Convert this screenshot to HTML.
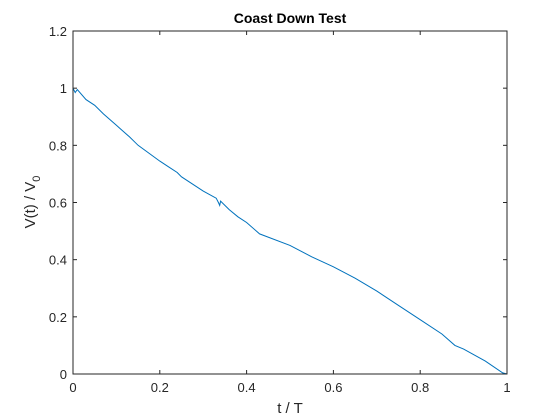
<!DOCTYPE html>
<html><head><meta charset="utf-8"><style>
body{margin:0;background:#fff;}
svg{display:block;font-family:"Liberation Sans","DejaVu Sans",sans-serif;}
</style></head><body>
<svg id="chart" width="560" height="420">
<rect x="0" y="0" width="560" height="420" fill="#fff"/>
<g id="grid"></g>
<path id="line" fill="none" stroke="#0072bd" stroke-width="1"/>
<rect x="73" y="31" width="434" height="343" fill="none" stroke="#262626" stroke-width="1"/>
<text x="290" y="23" text-anchor="middle" font-size="14" font-weight="bold" fill="#000">Coast Down Test</text>
<text x="290" y="413" text-anchor="middle" font-size="15" fill="#262626">t / T</text>
<text transform="translate(35,202) rotate(-90)" text-anchor="middle" font-size="15" fill="#262626">V(t) / V<tspan dy="5" font-size="11">0</tspan></text>
</svg>
<script>
const xTicks=[0,0.2,0.4,0.6,0.8,1];
const xTickLabels=["0","0.2","0.4","0.6","0.8","1"];
const yTicks=[0,0.2,0.4,0.6,0.8,1,1.2];
const yTickLabels=["0","0.2","0.4","0.6","0.8","1","1.2"];
const tValues=[0,0.005,0.01,0.03,0.05,0.07,0.1,0.13,0.15,0.2,0.22,0.24,0.25,0.3,0.33,0.335,0.338,0.34,0.36,0.38,0.4,0.43,0.5,0.55,0.6,0.65,0.7,0.75,0.8,0.85,0.88,0.9,0.95,0.99,1];
const vValues=[1.0,0.985,0.995,0.96,0.94,0.91,0.87,0.83,0.80,0.745,0.725,0.705,0.69,0.64,0.615,0.6,0.59,0.605,0.575,0.55,0.53,0.49,0.45,0.41,0.375,0.335,0.29,0.24,0.19,0.14,0.10,0.087,0.045,0.004,0];
const X0=73,X1=507,Y0=374,Y1=31;
const sx=v=>X0+v*(X1-X0);
const sy=v=>Y0-(v/1.2)*(Y0-Y1);
const NS="http://www.w3.org/2000/svg";
const g=document.getElementById('grid');
function mk(tag,attrs){const e=document.createElementNS(NS,tag);for(const k in attrs)e.setAttribute(k,attrs[k]);return e;}
xTicks.forEach((t,i)=>{
  const x=sx(t);
  const a=mk('line',{x1:x,x2:x,y1:Y0,y2:Y0-4,stroke:'#262626'});
  
  
  g.appendChild(a);
  const b=mk('line',{x1:x,x2:x,y1:Y1,y2:Y1+4,stroke:'#262626'});
  
  
  g.appendChild(b);
  const tx=mk('text',{x:x,y:Y0+18,'text-anchor':'middle','font-size':13,fill:'#262626'});
  tx.textContent=xTickLabels[i];
  
  
  g.appendChild(tx);
});
yTicks.forEach((t,i)=>{
  const y=sy(t);
  const a=mk('line',{x1:X0,x2:X0+4,y1:y,y2:y,stroke:'#262626'});
  
  
  g.appendChild(a);
  const b=mk('line',{x1:X1,x2:X1-4,y1:y,y2:y,stroke:'#262626'});
  
  
  g.appendChild(b);
  const tx=mk('text',{x:X0-6,y:y+5,'text-anchor':'end','font-size':13,fill:'#262626'});
  tx.textContent=yTickLabels[i];
  
  
  g.appendChild(tx);
});
document.getElementById('line').setAttribute('d',tValues.map((t,i)=>(i?'L':'M')+sx(t).toFixed(1)+','+sy(vValues[i]).toFixed(1)).join(' '));
</script>
</body></html>
